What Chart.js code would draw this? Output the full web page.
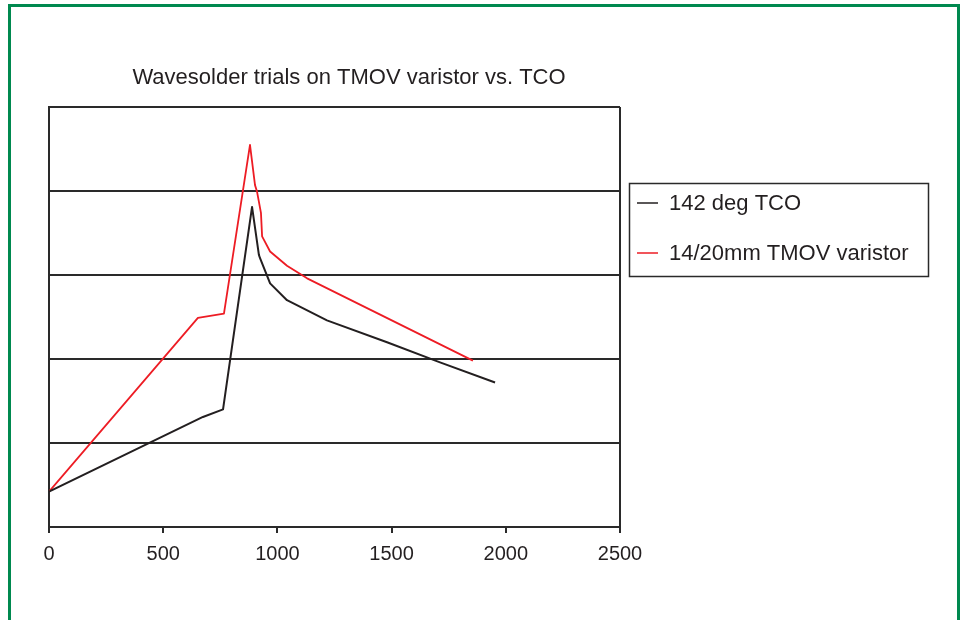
<!DOCTYPE html>
<html>
<head>
<meta charset="utf-8">
<script src="https://cdn.jsdelivr.net/npm/chart.js@4.4.0/dist/chart.umd.min.js"></script>
<style>
  html, body { margin: 0; padding: 0; background: #fff; overflow: hidden; }
  #wrap { position: relative; width: 961px; height: 620px; }
  .frame { position: absolute; left: 8px; top: 4px; width: 946px; height: 700px;
           border: 3px solid #00894f; border-bottom: none; pointer-events: none; }
</style>
</head>
<body>
<div id="wrap">
  <canvas id="chart"></canvas>
  <div class="frame"></div>
</div>
<script>
const chartTitle = 'Wavesolder trials on TMOV varistor vs. TCO';
const seriesNames = ['142 deg TCO', '14/20mm TMOV varistor'];
const seriesColors = ['#231f20', '#ed1c24'];

// 142 deg TCO
const tcoX = [0, 674, 762, 889, 919, 924, 968, 1042, 1217, 1480, 1712, 1953];
const tcoY = [21, 65.5, 70, 190.5, 162, 160, 145, 135, 123, 110, 98, 86];

// 14/20mm TMOV varistor
const tmovX = [0, 652, 766, 880, 902, 911, 928, 933, 968, 1042, 1130, 1856];
const tmovY = [21, 124.5, 127, 227.5, 203.5, 199.5, 187, 173, 164, 155.5, 148, 99];

const toPoints = (xs, ys) => xs.map((x, i) => ({ x: x, y: ys[i] }));

const fontFamily = '"Liberation Sans", Arial, Helvetica, sans-serif';

// titulo e legenda desenhados a mao
const extras = {
    id: 'extras',
    afterDraw(chart) {
        const c = chart.ctx;
        c.save();
        c.fillStyle = '#231f20';
        c.font = '22px ' + fontFamily;
        c.textAlign = 'center';
        c.textBaseline = 'middle';
        c.fillText(chartTitle, 349, 78);

        // caixa da legenda
        c.strokeStyle = '#2a2a2a';
        c.lineWidth = 1.5;
        c.strokeRect(629.5, 183.5, 299, 93);
        c.font = '22px ' + fontFamily;
        c.textAlign = 'left';
        chart.data.datasets.forEach((ds, i) => {
            const y = 203 + i * 50;
            c.strokeStyle = ds.borderColor;
            c.lineWidth = 1.5;
            c.beginPath();
            c.moveTo(637, y);
            c.lineTo(658, y);
            c.stroke();
            c.fillStyle = '#231f20';
            c.fillText(ds.label, 669, y + 1);
        });
        c.restore();
    }
};

const ctx = document.querySelector('#chart').getContext('2d');

new Chart(ctx, {
    type: 'line',
    data: {
        datasets: [
            {
                label: seriesNames[0],
                data: toPoints(tcoX, tcoY),
                borderColor: seriesColors[0],
                borderWidth: 2,
                borderJoinStyle: 'round',
                pointRadius: 0,
                tension: 0
            },
            {
                label: seriesNames[1],
                data: toPoints(tmovX, tmovY),
                borderColor: seriesColors[1],
                borderWidth: 1.8,
                borderJoinStyle: 'round',
                pointRadius: 0,
                tension: 0
            }
        ]
    },
    options: {
        responsive: true,
        maintainAspectRatio: false,
        animation: false,
        layout: { padding: { left: 49, right: 341, top: 107, bottom: 45 } },
        plugins: {
            legend: { display: false },
            title: { display: false },
            tooltip: { enabled: false }
        },
        scales: {
            x: {
                type: 'linear',
                min: 0,
                max: 2500,
                ticks: {
                    stepSize: 500,
                    color: '#231f20',
                    font: { family: fontFamily, size: 20 },
                    padding: 9,
                    maxRotation: 0,
                    callback: (v) => String(v)
                },
                grid: {
                    drawOnChartArea: true,
                    color: (c) => (c.tick && c.tick.value === 2500) ? '#2a2a2a' : 'rgba(0,0,0,0)',
                    lineWidth: 2,
                    tickColor: '#2a2a2a',
                    tickLength: 6
                },
                border: { color: '#2a2a2a', width: 2 }
            },
            y: {
                min: 0,
                max: 250,
                ticks: { stepSize: 50, display: false },
                grid: { color: '#2a2a2a', lineWidth: 2, drawTicks: false },
                border: { color: '#2a2a2a', width: 2 }
            }
        }
    },
    plugins: [extras]
});
</script>
</body>
</html>
